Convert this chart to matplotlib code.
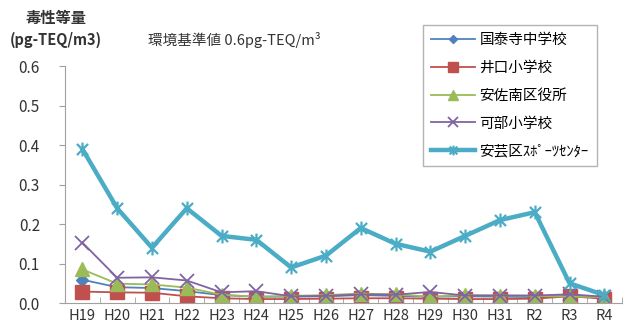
import matplotlib.pyplot as plt
import matplotlib.transforms as mtransforms
import numpy as np
from matplotlib.path import Path

plt.rcParams['font.family'] = ['Noto Sans CJK JP', 'DejaVu Sans']

years = ['H19', 'H20', 'H21', 'H22', 'H23', 'H24', 'H25', 'H26',
         'H27', 'H28', 'H29', 'H30', 'H31', 'R2', 'R3', 'R4']

kokutaiji = [0.059, 0.040, 0.038, 0.030, 0.020, 0.016, 0.016, 0.017,
             0.020, 0.018, 0.016, 0.017, 0.016, 0.015, 0.018, 0.014]
inokuchi = [0.029, 0.027, 0.026, 0.017, 0.012, 0.010, 0.010, 0.011,
            0.012, 0.012, 0.011, 0.010, 0.010, 0.011, 0.017, 0.011]
asaminami = [0.085, 0.049, 0.047, 0.039, 0.021, 0.016, 0.018, 0.020,
             0.024, 0.022, 0.016, 0.020, 0.019, 0.018, 0.016, 0.015]
kabe = [0.153, 0.064, 0.065, 0.057, 0.027, 0.030, 0.017, 0.018,
        0.022, 0.021, 0.028, 0.019, 0.019, 0.019, 0.022, 0.016]
aki_sports = [0.39, 0.24, 0.14, 0.24, 0.17, 0.16, 0.09, 0.12,
              0.19, 0.15, 0.13, 0.17, 0.21, 0.23, 0.05, 0.02]

# Excel-style asterisk: an X with a vertical bar
star = Path([(-1, -1), (1, 1), (-1, 1), (1, -1), (0, -1.25), (0, 1.25)],
            [Path.MOVETO, Path.LINETO, Path.MOVETO, Path.LINETO,
             Path.MOVETO, Path.LINETO])

fig = plt.figure(figsize=(6.28, 3.29), dpi=100)
ax = fig.add_axes([0.1035, 0.079, 0.8865, 0.72])

x = np.arange(len(years))
ax.plot(x, kokutaiji, color='#4F81BD', lw=1.3, marker='D', ms=6.5,
        label='国泰寺中学校')
ax.plot(x, inokuchi, color='#C0504D', lw=1.3, marker='s', ms=10,
        label='井口小学校')
ax.plot(x, asaminami, color='#9BBB59', lw=1.3, marker='^', ms=10,
        label='安佐南区役所')
ax.plot(x, kabe, color='#8064A2', lw=1.3, marker='x', ms=10, mew=1.3,
        label='可部小学校')
ax.plot(x, aki_sports, color='#4BACC6', lw=3.2, marker=star, ms=10,
        mew=1.6, label='安芸区ｽﾎﾟｰﾂｾﾝﾀｰ')

ax.set_xlim(-0.5, len(years) - 0.5)
ax.set_ylim(0, 0.6)
ax.set_yticks(np.arange(0, 0.61, 0.1))
ax.set_yticklabels([f'{v:.1f}' for v in np.arange(0, 0.61, 0.1)])
ax.set_xticks(x)
ax.set_xticklabels(years)
# the Reiwa labels sit a little to the right of their points
shift = mtransforms.ScaledTranslation(6 / 72, 0, fig.dpi_scale_trans)
for lbl in ax.get_xticklabels()[13:]:
    lbl.set_transform(lbl.get_transform() + shift)
ax.set_xticks(np.arange(-0.5, len(years), 1), minor=True)
ax.tick_params(axis='x', which='major', length=0, pad=4, labelsize=10.5,
               colors='#333333')
ax.tick_params(axis='x', which='minor', length=4, direction='in',
               color='#a0a0a0')
ax.tick_params(axis='y', length=4, color='#a0a0a0', pad=14, labelsize=11,
               labelcolor='#333333')

for side in ['top', 'right']:
    ax.spines[side].set_visible(False)
for side in ['left', 'bottom']:
    ax.spines[side].set_color('#a0a0a0')

fig.text(0.089, 0.945, '毒性等量', ha='center', va='center',
         fontsize=11, fontweight='bold', color='#333333')
fig.text(0.089, 0.878, '(pg-TEQ/m3)', ha='center', va='center',
         fontsize=10.5, fontweight='bold', color='#333333')
fig.text(0.236, 0.878, '環境基準値 0.6pg-TEQ/m³', ha='left', va='center',
         fontsize=10.5, color='#333333')

leg = fig.legend(loc='upper left', bbox_to_anchor=(0.674, 0.924),
                 fontsize=10.5, frameon=True, fancybox=False,
                 edgecolor='#a0a0a0', handlelength=3.0, handletextpad=0.3,
                 labelspacing=0.95, borderpad=0.55, borderaxespad=0)
leg.get_frame().set_linewidth(1.0)
for line in leg.get_lines():
    line.set_markersize(line.get_markersize() * 0.7)

fig.savefig('out.png', dpi=100)
